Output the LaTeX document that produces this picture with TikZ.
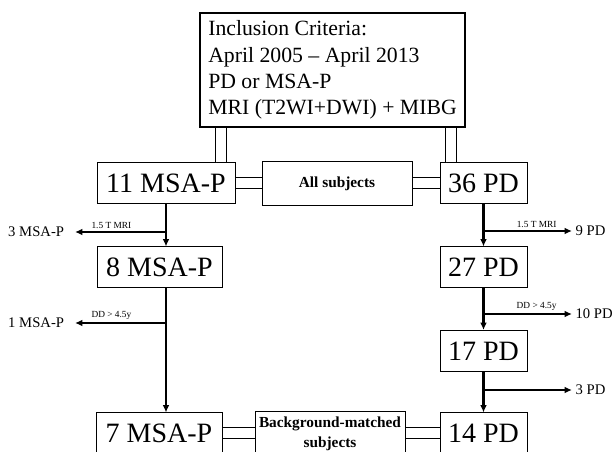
\documentclass[tikz,border=0pt]{standalone}
\usepackage{fontspec}
\setmainfont{Liberation Serif}
\usetikzlibrary{arrows.meta,calc}

\begin{document}
\begin{tikzpicture}[x=0.75pt, y=-0.75pt, every node/.style={align=center},
  incl/.style={draw, line width=1.5pt, inner sep=0pt, minimum width=198.75pt,
    minimum height=85.5pt, align=left, font=\fontsize{16.3}{19.75}\selectfont},
  count/.style={draw, line width=0.75pt, inner sep=0pt, minimum height=30.75pt,
    font=\fontsize{21}{24}\selectfont},
  group/.style={draw, line width=0.75pt, inner sep=0pt, minimum width=112.5pt,
    minimum height=33pt, font=\fontsize{11.5}{15}\selectfont\bfseries},
  flow/.style={line width=2pt, -{Latex[length=5.5pt,width=5pt]}},
  link/.style={double, line width=0.75pt, double distance=7.5pt},
  lbl/.style={font=\fontsize{7}{8}\selectfont, inner sep=1.5pt},
  outc/.style={font=\fontsize{11}{13}\selectfont, inner ysep=0pt, inner xsep=2.5pt}]

\useasboundingbox (0,0) rectangle (615,452);
\clip (0,0) rectangle (615,452);

  % Inclusion criteria (top)
  \node[incl] (incl) at (332.5,70) {Inclusion Criteria:\\
    April 2005 -- April 2013\\
    PD or MSA-P\\
    MRI (T2WI+DWI) + MIBG};

  % MSA-P column (left)
  \node[count, minimum width=103.5pt] (msa11) at (166,183.5) {11 MSA-P};
  \node[count, minimum width=93.75pt] (msa8) at (159.5,267.5) {8 MSA-P};
  \node[count, minimum width=94.5pt] (msa7) at (159,433.5) {7 MSA-P};

  % PD column (right)
  \node[count, minimum width=65.25pt] (pd36) at (483.5,183.5) {36 PD};
  \node[count, minimum width=65.25pt] (pd27) at (483.5,267.5) {27 PD};
  \node[count, minimum width=65.25pt] (pd17) at (483.5,351) {17 PD};
  \node[count, minimum width=65.25pt] (pd14) at (483.5,433.5) {14 PD};

  % subject groups (middle)
  \node[group] (all) at (337,183.5) {All subjects};
  \node[group] (bg) at (330,433.5) {Background-matched\\subjects};

  % excluded subjects
  \node[outc, anchor=east, inner xsep=8pt] (o1) at (75,232) {3 MSA-P};
  \node[outc, anchor=east, inner xsep=8pt] (o2) at (75,323) {1 MSA-P};
  \node[outc, anchor=west] (o3) at (572,231) {9 PD};
  \node[outc, anchor=west] (o4) at (572,314) {10 PD};
  \node[outc, anchor=west] (o5) at (572,390) {3 PD};

  % double links
  \coordinate (l1) at ($(msa11.north east)+(-15,0)$);
  \coordinate (l2) at ($(pd36.north west)+(11,0)$);
  \draw[link] (l1) -- (l1 |- incl.south);
  \draw[link] (l2) -- (l2 |- incl.south);
  \draw[link] (msa11) -- (all);
  \draw[link] (all) -- (pd36);
  \draw[link] (msa7) -- (bg);
  \draw[link] (bg) -- (pd14);

  % flow on the left
  \draw[flow] (msa11) -- (msa11.south |- msa8.north);
  \draw[flow] (msa11.south |- o1.east) -- node[lbl, above, pos=0.6] {1.5 T MRI} (o1.east);
  \draw[flow] (msa11.south |- msa8.south) -- (msa11.south |- msa7.north);
  \draw[flow] (msa11.south |- o2.east) -- node[lbl, above, pos=0.6] {DD > 4.5y} (o2.east);

  % flow on the right
  \draw[flow] (pd36) -- (pd27);
  \draw[flow] (pd27) -- (pd17);
  \draw[flow] (pd17) -- (pd14);
  \draw[flow] (pd36.south |- o3.west) -- node[lbl, above, pos=0.6] {1.5 T MRI} (o3.west);
  \draw[flow] (pd27.south |- o4.west) -- node[lbl, above, pos=0.6] {DD > 4.5y} (o4.west);
  \draw[flow] (pd17.south |- o5.west) -- (o5.west);

\end{tikzpicture}
\end{document}
